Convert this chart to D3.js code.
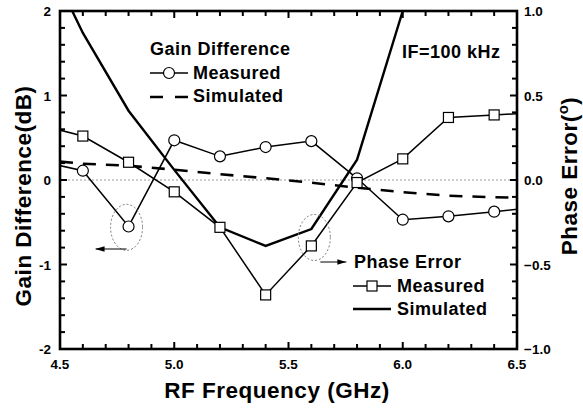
<!DOCTYPE html>
<html>
<head>
<meta charset="utf-8">
<script src="https://cdn.jsdelivr.net/npm/d3@7"></script>
<style>
  body { margin: 0; background: #fff; }
  svg { display: block; font-family: "Liberation Sans", Arial, sans-serif; font-weight: bold; }
</style>
</head>
<body>
<svg id="chart" width="583" height="409"></svg>
<script>
// ---- data ----
const measFreq = [4.4, 4.6, 4.8, 5.0, 5.2, 5.4, 5.6, 5.8, 6.0, 6.2, 6.4, 6.6];
const gainMeasured = [0.23, 0.11, -0.55, 0.47, 0.28, 0.39, 0.46, 0.02, -0.47, -0.43, -0.375, -0.32];
const phaseMeasured = [0.33, 0.26, 0.105, -0.07, -0.28, -0.68, -0.39, -0.015, 0.125, 0.37, 0.385, 0.40];

const gainSimFreq = [4.5, 4.6, 4.8, 5.0, 5.2, 5.4, 5.6, 5.8, 6.0, 6.2, 6.4, 6.5];
const gainSimulated = [0.217, 0.193, 0.169, 0.122, 0.069, 0.021, -0.032, -0.091, -0.144, -0.186, -0.204, -0.21];

const phaseSimFreq = [4.5, 4.6, 4.8, 5.0, 5.2, 5.4, 5.6, 5.8, 6.0, 6.2];
const phaseSimulated = [1.15, 0.87, 0.41, 0.06, -0.28, -0.39, -0.29, 0.12, 1.0, 1.9];

const xTicks = [4.5, 5.0, 5.5, 6.0, 6.5];
const gainTicks = [-2, -1, 0, 1, 2];
const phaseTicks = [-1.0, -0.5, 0.0, 0.5, 1.0];

// ---- layout ----
const svg = d3.select("#chart");
const pLeft = 60, pRight = 517, pTop = 11, pBottom = 349;

const x = d3.scaleLinear().domain([4.5, 6.5]).range([pLeft, pRight]);
const yG = d3.scaleLinear().domain([-2, 2]).range([pBottom, pTop]);
const yP = d3.scaleLinear().domain([-1, 1]).range([pBottom, pTop]);

const defs = svg.append("defs");
defs.append("clipPath").attr("id", "plotclip")
  .append("rect").attr("x", pLeft).attr("y", pTop)
  .attr("width", pRight - pLeft).attr("height", pBottom - pTop);

defs.append("marker")
  .attr("id", "arrow").attr("viewBox", "0 0 10 6")
  .attr("refX", 10).attr("refY", 3)
  .attr("markerWidth", 9).attr("markerHeight", 5.4)
  .attr("markerUnits", "userSpaceOnUse")
  .attr("orient", "auto")
  .append("path").attr("d", "M0,0 L10,3 L0,6 Z").attr("fill", "#000");

// zero line (dotted)
svg.append("line")
  .attr("x1", pLeft).attr("x2", pRight)
  .attr("y1", yG(0)).attr("y2", yG(0))
  .attr("stroke", "#999").attr("stroke-width", 1)
  .attr("stroke-dasharray", "2,2");

const plot = svg.append("g").attr("clip-path", "url(#plotclip)");

// lines
const gainLine = d3.line().x((d, i) => x(measFreq[i])).y(d => yG(d));
const phaseLine = d3.line().x((d, i) => x(measFreq[i])).y(d => yP(d));

plot.append("path").datum(gainSimulated)
  .attr("d", d3.line().x((d, i) => x(gainSimFreq[i])).y(d => yG(d)))
  .attr("fill", "none").attr("stroke", "#000").attr("stroke-width", 2.6)
  .attr("stroke-dasharray", "13,10");

plot.append("path").datum(phaseSimulated)
  .attr("d", d3.line().x((d, i) => x(phaseSimFreq[i])).y(d => yP(d)))
  .attr("fill", "none").attr("stroke", "#000").attr("stroke-width", 2.4);

plot.append("path").datum(gainMeasured)
  .attr("d", gainLine)
  .attr("fill", "none").attr("stroke", "#000").attr("stroke-width", 1.5);

plot.append("path").datum(phaseMeasured)
  .attr("d", phaseLine)
  .attr("fill", "none").attr("stroke", "#000").attr("stroke-width", 1.5);

// markers (inside range only)
const inRange = measFreq.map((f, i) => i).filter(i => measFreq[i] >= 4.5 && measFreq[i] <= 6.5);

svg.selectAll(".circ").data(inRange).enter().append("circle")
  .attr("class", "circ")
  .attr("cx", i => x(measFreq[i])).attr("cy", i => yG(gainMeasured[i]))
  .attr("r", 5.5).attr("fill", "#fff").attr("stroke", "#000").attr("stroke-width", 1.2);

svg.selectAll(".sq").data(inRange).enter().append("rect")
  .attr("class", "sq")
  .attr("x", i => x(measFreq[i]) - 5).attr("y", i => yP(phaseMeasured[i]) - 5)
  .attr("width", 10).attr("height", 10)
  .attr("fill", "#fff").attr("stroke", "#000").attr("stroke-width", 1.2);

// dotted ellipses and arrows
svg.append("ellipse").attr("cx", x(4.8) - 2).attr("cy", yG(-0.56))
  .attr("rx", 16).attr("ry", 23)
  .attr("fill", "none").attr("stroke", "#777").attr("stroke-width", 1)
  .attr("stroke-dasharray", "2,2");
svg.append("line").attr("x1", x(4.8) - 2).attr("x2", x(4.8) - 33)
  .attr("y1", 249).attr("y2", 249)
  .attr("stroke", "#000").attr("stroke-width", 1).attr("marker-end", "url(#arrow)");

svg.append("ellipse").attr("cx", x(5.6) + 3).attr("cy", yP(-0.34))
  .attr("rx", 16).attr("ry", 23)
  .attr("fill", "none").attr("stroke", "#777").attr("stroke-width", 1)
  .attr("stroke-dasharray", "2,2");
svg.append("line").attr("x1", x(5.6) + 9).attr("x2", x(5.6) + 35)
  .attr("y1", 262).attr("y2", 262)
  .attr("stroke", "#000").attr("stroke-width", 1).attr("marker-end", "url(#arrow)");

// ---- ticks (inward on all four sides) ----
const fmt1 = d3.format(".1f");
const xMinor = d3.range(4.5, 6.501, 0.1);
const gMinor = d3.range(-2, 2.001, 0.2);
const pMinor = d3.range(-1, 1.001, 0.1);
const isMajorX = v => xTicks.some(t => Math.abs(t - v) < 1e-6);
const isMajorG = v => gainTicks.some(t => Math.abs(t - v) < 1e-6);
const isMajorP = v => phaseTicks.some(t => Math.abs(t - v) < 1e-6);

const ticks = svg.append("g").attr("stroke", "#000").attr("stroke-width", 2);
[pBottom, pTop].forEach(yy => {
  const dir = yy === pBottom ? -1 : 1;
  ticks.append("g").selectAll("line").data(xMinor).enter().append("line")
    .attr("x1", d => x(d)).attr("x2", d => x(d))
    .attr("y1", yy).attr("y2", d => yy + dir * (isMajorX(d) ? 7 : 5));
});
ticks.append("g").selectAll("line").data(gMinor).enter().append("line")
  .attr("x1", pLeft).attr("x2", d => pLeft + (isMajorG(d) ? 7 : 5))
  .attr("y1", d => yG(d)).attr("y2", d => yG(d));
ticks.append("g").selectAll("line").data(pMinor).enter().append("line")
  .attr("x1", pRight).attr("x2", d => pRight - (isMajorP(d) ? 7 : 5))
  .attr("y1", d => yP(d)).attr("y2", d => yP(d));

svg.append("rect").attr("x", pLeft).attr("y", pTop)
  .attr("width", pRight - pLeft).attr("height", pBottom - pTop)
  .attr("fill", "none").attr("stroke", "#000").attr("stroke-width", 2.6);

// tick labels
svg.selectAll(".xl").data(xTicks).enter().append("text")
  .attr("x", d => x(d)).attr("y", 369)
  .attr("text-anchor", "middle").attr("font-size", 13.5)
  .text(d => fmt1(d));

svg.selectAll(".gl").data(gainTicks).enter().append("text")
  .attr("x", 51).attr("y", d => yG(d) + 5)
  .attr("text-anchor", "end").attr("font-size", 13.5)
  .text(d => d);

svg.selectAll(".pl").data(phaseTicks).enter().append("text")
  .attr("x", 524).attr("y", d => yP(d) + 5)
  .attr("text-anchor", "start").attr("font-size", 13.5)
  .text(d => fmt1(d));

// axis titles
svg.append("text").attr("x", 277).attr("y", 398)
  .attr("text-anchor", "middle").attr("font-size", 22.5).attr("letter-spacing", 0.5)
  .text("RF Frequency (GHz)");

svg.append("text")
  .attr("transform", "translate(31,196) rotate(-90)")
  .attr("text-anchor", "middle").attr("font-size", 22.5).attr("letter-spacing", 0.5)
  .text("Gain Difference(dB)");

const pt = svg.append("text")
  .attr("transform", "translate(577,176) rotate(-90)")
  .attr("text-anchor", "middle").attr("font-size", 22.5).attr("letter-spacing", 0.5);
pt.append("tspan").text("Phase Error(");
pt.append("tspan").attr("dy", -9).attr("font-size", 15).text("o");
pt.append("tspan").attr("dy", 9).text(")");

// legends
const legendText = (tx, ty, s) => svg.append("text").attr("x", tx).attr("y", ty)
  .attr("font-size", 18).attr("letter-spacing", 0.5).text(s);

legendText(150, 55, "Gain Difference");
svg.append("line").attr("x1", 150).attr("x2", 188).attr("y1", 73).attr("y2", 73)
  .attr("stroke", "#000").attr("stroke-width", 1.5);
svg.append("circle").attr("cx", 169).attr("cy", 73).attr("r", 5.5)
  .attr("fill", "#fff").attr("stroke", "#000").attr("stroke-width", 1.2);
legendText(193, 79, "Measured");
svg.append("line").attr("x1", 150).attr("x2", 188).attr("y1", 97).attr("y2", 97)
  .attr("stroke", "#000").attr("stroke-width", 2.6).attr("stroke-dasharray", "13,12");
legendText(193, 102, "Simulated");

legendText(402, 58, "IF=100 kHz");

legendText(354, 268, "Phase Error");
svg.append("line").attr("x1", 353).attr("x2", 391).attr("y1", 286).attr("y2", 286)
  .attr("stroke", "#000").attr("stroke-width", 1.5);
svg.append("rect").attr("x", 367).attr("y", 281).attr("width", 10).attr("height", 10)
  .attr("fill", "#fff").attr("stroke", "#000").attr("stroke-width", 1.2);
legendText(397, 292, "Measured");
svg.append("line").attr("x1", 353).attr("x2", 391).attr("y1", 309).attr("y2", 309)
  .attr("stroke", "#000").attr("stroke-width", 2.4);
legendText(397, 315, "Simulated");
</script>
</body>
</html>
